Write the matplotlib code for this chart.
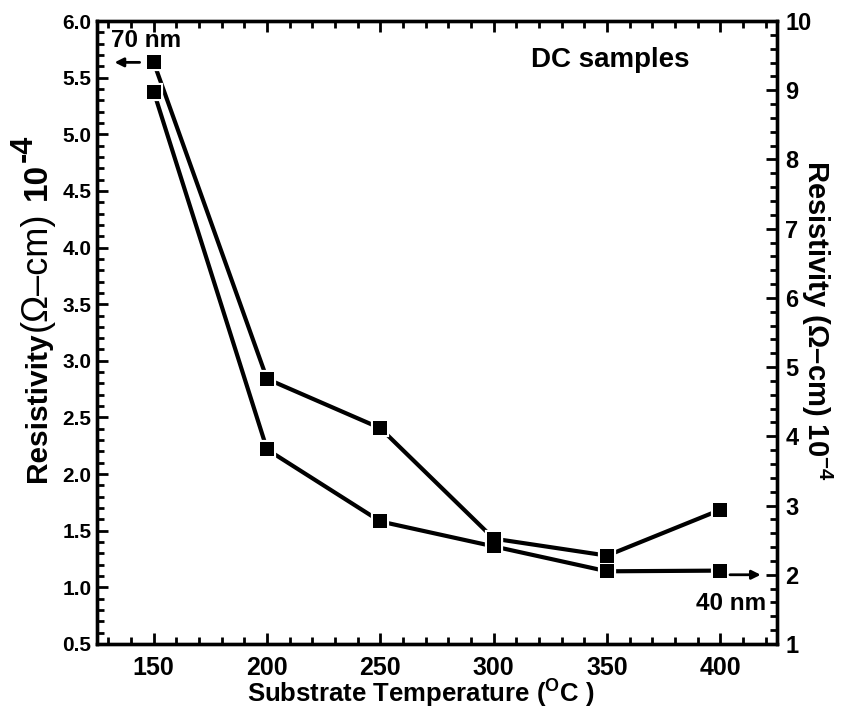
import matplotlib.pyplot as plt
from matplotlib.ticker import MultipleLocator

plt.rcParams['font.family'] = ['Liberation Sans', 'DejaVu Sans']
plt.rcParams['font.weight'] = 'bold'
plt.rcParams['mathtext.fontset'] = 'custom'
plt.rcParams['mathtext.rm'] = 'Liberation Sans:bold'
plt.rcParams['mathtext.bf'] = 'Liberation Sans:bold'
plt.rcParams['mathtext.default'] = 'bf'

# substrate temperature (deg C)
temps = [150, 200, 250, 300, 350, 400]
# 70 nm films, left axis (x 1e-4 ohm-cm)
rho_70nm = [5.635, 2.84, 2.405, 1.43, 1.28, 1.685]
# 40 nm films, right axis (x 1e-4 ohm-cm)
rho_40nm = [8.98, 3.81, 2.77, 2.41, 2.05, 2.06]

W, H = 844, 713


def fpos(x, y):
    # pixel position (from top-left) -> figure fraction
    return x / W, 1 - y / H


fig = plt.figure(figsize=(W / 100, H / 100), dpi=100)
ax1 = fig.add_axes([0.115, 0.0968, 0.8057, 0.8737])
ax2 = ax1.twinx()

# lines with a white ring round each marker so the line stops short of it
ring = dict(color='black', lw=3.0, marker='s', markersize=11.5,
            markerfacecolor='black', markeredgecolor='white',
            markeredgewidth=1.6, solid_capstyle='butt')
ax1.plot(temps, rho_70nm, **ring)
ax2.plot(temps, rho_40nm, **ring)
# solid squares on top of everything
dots = dict(ls='none', marker='s', markersize=10, color='black', markeredgewidth=0)
ax2.plot(temps, rho_40nm, **dots)
ax2.plot(temps, rho_70nm, transform=ax1.transData, **dots)

ax1.set_xlim(125, 425)
ax1.set_ylim(0.5, 6.0)
ax2.set_ylim(1, 10)

ax1.xaxis.set_major_locator(MultipleLocator(50))
ax1.xaxis.set_minor_locator(MultipleLocator(10))
ax1.yaxis.set_major_locator(MultipleLocator(0.5))
ax1.yaxis.set_minor_locator(MultipleLocator(0.1))
ax2.yaxis.set_major_locator(MultipleLocator(1))
ax2.yaxis.set_minor_locator(MultipleLocator(0.2))
ax1.yaxis.set_major_formatter('{x:.1f}')
ax2.yaxis.set_major_formatter('{x:.0f}')

for ax in (ax1, ax2):
    for sp in ax.spines.values():
        sp.set_linewidth(2.4)
ax1.tick_params(axis='x', which='both', direction='in', top=True, width=2.0)
ax1.tick_params(axis='x', which='major', length=8, labelsize=18, pad=9)
ax1.tick_params(axis='x', which='minor', length=5)
ax1.tick_params(axis='y', which='both', direction='in', right=False, width=2.0)
ax1.tick_params(axis='y', which='major', length=8, labelsize=15, pad=4)
ax1.tick_params(axis='y', which='minor', length=5)
ax2.tick_params(axis='y', which='both', direction='in', width=2.0)
ax2.tick_params(axis='y', which='major', length=8, labelsize=17, pad=6)
ax2.tick_params(axis='y', which='minor', length=5)

# axis titles
fig.text(*fpos(247, 703), 'Substrate Temperature ($^{O}$C )', fontsize=18.5,
         ha='left', va='baseline')

# left title is set piece by piece, each one starting where the last ended
renderer = fig.canvas.get_renderer()
left_parts = [('Resistivity', 0, 21.5, 'bold', 1),
              ('(\u03a9\u2013cm)', 0, 26, 'normal', 12),
              ('10', 0, 24, 'bold', 1),
              ('-4', -14, 22, 'bold', 0)]
y = 482
for txt, dx, size, weight, gap in left_parts:
    t = fig.text(*fpos(46 + dx, y), txt, fontsize=size, fontweight=weight,
                 rotation=90, rotation_mode='anchor', ha='left', va='baseline')
    y -= t.get_window_extent(renderer).height + gap

fig.text(*fpos(807, 160), 'Resistivity (\u03a9\u2013cm) 10$^{-4}$', fontsize=21,
         rotation=270, rotation_mode='anchor', ha='left', va='baseline')

# annotations
ax1.text(131, 5.83, '70 nm', fontsize=17.5, va='center', ha='left')
ax1.annotate('', xy=(131.5, rho_70nm[0]), xytext=(145, rho_70nm[0]),
             arrowprops=dict(arrowstyle='-|>', color='black', lw=2, mutation_scale=13))
ax2.text(420, 1.59, '40 nm', fontsize=17.5, va='center', ha='right')
ax2.annotate('', xy=(419, 2.0), xytext=(403, 2.0),
             arrowprops=dict(arrowstyle='-|>', color='black', lw=2, mutation_scale=13))
ax1.text(0.754, 0.938, 'DC samples', transform=ax1.transAxes, fontsize=20,
         ha='center', va='center')

fig.savefig('out.png', dpi=100)
